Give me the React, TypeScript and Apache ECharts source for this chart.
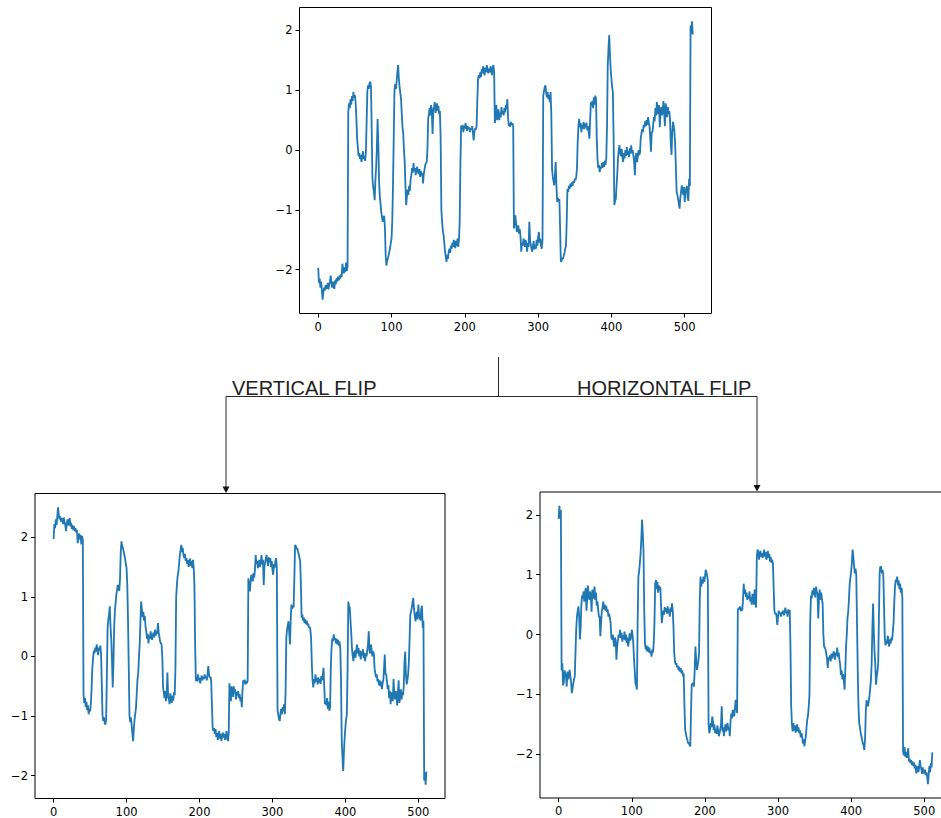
import React, { useEffect, useRef } from "react";
import * as echarts from "echarts";

// The source signal, one value per sample (512 samples).
const signal: number[] = [
  -1.97, -2.22, -2.15, -2.3, -2.2, -2.35, -2.5, -2.38, -2.3, -2.35, -2.26, -2.32, -2.3, -2.22, -2.33, -2.25,
  -2.2, -2.1, -2.22, -2.3, -2.2, -2.28, -2.32, -2.18, -2.24, -2.14, -2.2, -2.12, -2.18, -2.1, -2.15, -2.08,
  -2.12, -1.9, -2.02, -2.06, -1.96, -2.04, -1.88, -2.02, -1.95, 0.63, 0.78, 0.7, 0.85, 0.76, 0.9, 0.82,
  0.97, 0.88, 0.92, 0.8, 0.55, 0.2, 0.05, -0.1, -0.05, -0.15, -0.08, -0.2, -0.12, -0.02, -0.15, -0.1,
  -0.18, -0.05, 0.45, 0.98, 1.08, 1.02, 1.12, 1.14, 1.05, 0.3, -0.48, -0.62, -0.7, -0.84, -0.5, -0.3,
  0.05, 0.52, 0.1, -0.5, -0.77, -0.9, -1.04, -1.12, -1.2, -1.14, -1.1, -1.3, -1.75, -1.93, -1.85, -1.82,
  -1.76, -1.7, -1.64, -1.55, -1.48, -1.2, -0.59, 0.2, 1.0, 1.1, 1.02, 1.15, 1.3, 1.42, 1.2, 1.05,
  0.95, 0.85, 0.6, 0.38, 0.28, 0.0, -0.2, -0.6, -0.92, -0.78, -0.66, -0.75, -0.6, -0.68, -0.5, -0.42,
  -0.3, -0.38, -0.22, -0.35, -0.3, -0.42, -0.33, -0.28, -0.36, -0.4, -0.32, -0.45, -0.35, -0.42, -0.38, -0.56,
  -0.4, -0.33, -0.25, -0.22, -0.2, 0.0, 0.52, 0.6, 0.7, 0.58, 0.75, 0.62, 0.27, 0.68, 0.72, 0.8,
  0.62, 0.7, 0.78, 0.66, 0.74, 0.6, 0.65, 0.2, -1.0, -1.2, -1.35, -1.42, -1.55, -1.7, -1.78, -1.87,
  -1.75, -1.82, -1.7, -1.65, -1.72, -1.6, -1.65, -1.55, -1.62, -1.5, -1.58, -1.64, -1.52, -1.6, -1.48, -1.62,
  -1.5, -1.2, -0.2, 0.41, 0.35, 0.42, 0.3, 0.4, 0.36, 0.45, 0.38, 0.32, 0.4, 0.35, 0.38, 0.3,
  0.36, 0.34, 0.4, 0.3, 0.16, 0.3, 0.36, 0.34, 0.4, 0.8, 1.19, 1.25, 1.2, 1.3, 1.22, 1.35,
  1.28, 1.4, 1.32, 1.25, 1.38, 1.3, 1.42, 1.35, 1.28, 1.36, 1.3, 1.4, 1.34, 1.25, 1.38, 1.42,
  1.3, 0.45, 0.62, 0.75, 0.5, 0.6, 0.68, 0.5, 0.62, 0.55, 0.72, 0.6, 0.65, 0.58, 0.7, 0.63,
  0.75, 0.68, 0.85, 0.55, 0.4, 0.45, 0.39, 0.47, 0.42, 0.45, 0.4, -1.31, -1.2, -1.09, -1.25, -1.37,
  -1.3, -1.26, -1.4, -1.32, -1.45, -1.7, -1.55, -1.6, -1.48, -1.53, -1.62, -1.5, -1.58, -1.7, -1.55, -1.62,
  -1.2, -1.5, -1.58, -1.65, -1.7, -1.6, -1.52, -1.66, -1.58, -1.65, -1.5, -1.6, -1.45, -1.37, -1.55, -1.48,
  -1.6, -1.65, -1.5, 0.91, 0.98, 1.05, 1.08, 0.95, 0.88, 0.97, 0.85, 0.92, 0.8, 0.97, 0.6, -0.31,
  -0.45, -0.52, -0.59, -0.4, -0.2, -0.6, -0.87, -0.8, -0.85, -0.82, -1.3, -1.87, -1.85, -1.8, -1.82, -1.76,
  -1.72, -1.65, -1.6, -1.2, -0.65, -0.7, -0.6, -0.65, -0.56, -0.62, -0.54, -0.6, -0.52, -0.55, -0.48, -0.5,
  -0.45, -0.3, 0.13, 0.4, 0.52, 0.38, 0.45, 0.3, 0.42, 0.36, 0.47, 0.35, 0.44, 0.38, 0.46, 0.33,
  0.4, 0.3, 0.19, 0.5, 0.8, 0.75, 0.82, 0.7, 0.88, 0.76, 0.91, 0.85, 0.2, -0.14, -0.3, -0.25,
  -0.37, -0.28, -0.31, -0.22, -0.3, -0.2, -0.28, -0.18, -0.25, -0.14, 0.4, 1.41, 1.7, 1.92, 1.6, 1.35,
  1.19, 1.05, 0.97, 0.2, -0.92, -0.85, -0.82, -0.6, -0.4, -0.14, 0.0, 0.08, -0.05, -0.1, 0.02, -0.12,
  -0.2, -0.05, -0.14, 0.0, -0.1, 0.05, -0.08, -0.02, -0.12, 0.03, -0.06, 0.08, -0.05, 0.0, -0.1, -0.2,
  -0.42, -0.1, -0.05, -0.2, -0.12, 0.0, -0.08, -0.05, 0.2, 0.28, 0.35, 0.3, 0.42, 0.38, 0.48, 0.4,
  0.5, 0.42, 0.55, 0.45, 0.4, 0.2, -0.03, 0.3, 0.3, 0.42, 0.55, 0.48, 0.7, 0.58, 0.8, 0.6,
  0.68, 0.75, 0.38, 0.62, 0.72, 0.58, 0.66, 0.82, 0.6, 0.4, 0.78, 0.7, 0.55, 0.72, 0.6, 0.65,
  0.5, 0.1, -0.08, 0.3, 0.47, 0.4, 0.3, 0.1, -0.3, -0.7, -0.75, -0.82, -0.9, -0.98, -0.8, -0.7,
  -0.59, -0.68, -0.75, -0.62, -0.87, -0.7, -0.65, -0.6, -0.8, -0.85, -0.48, -0.6, 2.08, 1.95, 2.15, 1.93,
];

const xTicks: number[] = [0, 100, 200, 300, 400, 500];
const yTicks: number[] = [-2, -1, 0, 1, 2];
const flipLabels: string[] = ["VERTICAL FLIP", "HORIZONTAL FLIP"];

const LINE_COLOR = "#1f77b4";
const INK = "#000";
const CONNECTOR = "#2b2b2b";

// Panel series: the signal as is, mirrored about zero, and reversed in time.
const original = signal.map((v, i) => [i, v]);
const verticalFlip = signal.map((v, i) => [i, -v]);
const horizontalFlip = signal.map((_, i) => [i, signal[signal.length - 1 - i]]);

// Axis limits with 5% padding around the data extent.
const pad = (lo: number, hi: number): [number, number] => {
  const m = (hi - lo) * 0.05;
  return [lo - m, hi + m];
};
const [xMin, xMax] = pad(0, signal.length - 1);
const sMin = Math.min(...signal);
const sMax = Math.max(...signal);
const [yMinA, yMaxA] = pad(sMin, sMax);
const [yMinB, yMaxB] = pad(-sMax, -sMin);

const fmt = (v: number) => (v < 0 ? "\u2212" + Math.abs(v) : String(v));

const labelStyle = {
  color: INK,
  fontSize: 11.5,
  fontFamily: "DejaVu Sans",
};

function xAxisFor(gridIndex: number) {
  return {
    type: "value" as const,
    gridIndex,
    min: xMin,
    max: xMax,
    axisLine: { show: false, onZero: false },
    splitLine: { show: false },
    axisTick: { show: true, length: 4, lineStyle: { color: INK, width: 1 }, customValues: xTicks },
    axisLabel: { ...labelStyle, margin: 7, customValues: xTicks, formatter: fmt },
  };
}

function yAxisFor(gridIndex: number, min: number, max: number) {
  return {
    type: "value" as const,
    gridIndex,
    min,
    max,
    axisLine: { show: false, onZero: false },
    splitLine: { show: false },
    axisTick: { show: true, length: 4, lineStyle: { color: INK, width: 1 }, customValues: yTicks },
    axisLabel: { ...labelStyle, margin: 7, customValues: yTicks, formatter: fmt },
  };
}

function lineSeries(index: number, data: number[][]) {
  return {
    type: "line" as const,
    xAxisIndex: index,
    yAxisIndex: index,
    data,
    symbol: "none",
    showSymbol: false,
    clip: true,
    lineStyle: { color: LINE_COLOR, width: 1.8 },
  };
}

const gridBase = {
  show: true,
  borderColor: INK,
  borderWidth: 1,
  backgroundColor: "transparent",
  containLabel: false,
  outerBoundsMode: "none",
};

export default function App() {
  const ref = useRef<HTMLDivElement>(null);

  useEffect(() => {
    document.body.style.margin = "0";
    if (!ref.current) return;
    const chart = echarts.init(ref.current, undefined, { renderer: "svg" });

    const option: any = {
      animation: false,
      backgroundColor: "#fff",
      grid: [
        { ...gridBase, left: 299.5, top: 7.5, width: 412, height: 306 },
        { ...gridBase, left: 35, top: 493.5, width: 410, height: 305 },
        { ...gridBase, left: 540, top: 492, width: 411, height: 306 },
      ],
      xAxis: [xAxisFor(0), xAxisFor(1), xAxisFor(2)],
      yAxis: [yAxisFor(0, yMinA, yMaxA), yAxisFor(1, yMinB, yMaxB), yAxisFor(2, yMinA, yMaxA)],
      series: [lineSeries(0, original), lineSeries(1, verticalFlip), lineSeries(2, horizontalFlip)],
      graphic: [
        // stem from the source plot and the split bar
        { type: "line", shape: { x1: 498.5, y1: 357, x2: 498.5, y2: 396.5 }, style: { stroke: CONNECTOR, lineWidth: 1 } },
        { type: "line", shape: { x1: 226, y1: 396.5, x2: 757, y2: 396.5 }, style: { stroke: CONNECTOR, lineWidth: 1 } },
        // left branch with arrow head
        { type: "line", shape: { x1: 226, y1: 396.5, x2: 226, y2: 487 }, style: { stroke: CONNECTOR, lineWidth: 1 } },
        { type: "polygon", shape: { points: [[222.5, 486.5], [229.5, 486.5], [226, 493]] }, style: { fill: "#111" } },
        // right branch with arrow head
        { type: "line", shape: { x1: 757, y1: 396.5, x2: 757, y2: 485.5 }, style: { stroke: CONNECTOR, lineWidth: 1 } },
        { type: "polygon", shape: { points: [[753.5, 485], [760.5, 485], [757, 491.5]] }, style: { fill: "#111" } },
        {
          type: "text",
          x: 232,
          y: 388,
          style: {
            text: flipLabels[0],
            fontFamily: "Liberation Sans",
            fontSize: 20,
            fill: "#222",
            verticalAlign: "middle",
            align: "left",
          },
        },
        {
          type: "text",
          x: 577,
          y: 388,
          style: {
            text: flipLabels[1],
            fontFamily: "Liberation Sans",
            fontSize: 20,
            fill: "#222",
            verticalAlign: "middle",
            align: "left",
          },
        },
      ],
    };

    chart.setOption(option);
    return () => chart.dispose();
  }, []);

  return <div ref={ref} style={{ width: 941, height: 818 }} />;
}
